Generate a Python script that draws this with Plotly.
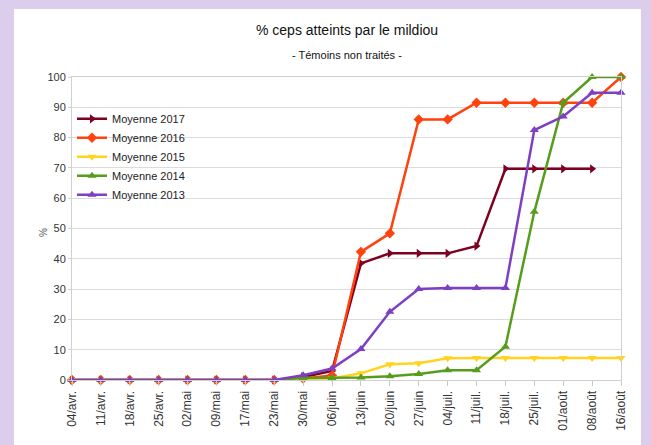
import plotly.graph_objects as go

# dates of the observations
dates = ["04/avr.", "11/avr.", "18/avr.", "25/avr.", "02/mai", "09/mai", "17/mai", "23/mai",
         "30/mai", "06/juin", "13/juin", "20/juin", "27/juin", "04/juil.", "11/juil.", "18/juil.",
         "25/juil.", "01/août", "08/août", "16/août"]

# % of vines hit by mildew, per year (None = no reading)
moy_2017 = [0, 0, 0, 0, 0, 0, 0, 0, 1, 3, 38.5, 41.8, 41.8, 41.8, 44.2, 69.7, 69.7, 69.7, 69.7, None]
moy_2016 = [0, 0, 0, 0, 0, 0, 0, 0, 0.5, 1.5, 42.3, 48.4, 86, 86, 91.5, 91.5, 91.5, 91.5, 91.5, 100]
moy_2015 = [0, 0, 0, 0, 0, 0, 0, 0, 0.5, 0.5, 2.2, 5.2, 5.5, 7.2, 7.3, 7.3, 7.3, 7.3, 7.3, 7.3]
moy_2014 = [0, 0, 0, 0, 0, 0, 0, 0, 0.7, 0.7, 0.8, 1.2, 2, 3.2, 3.2, 11, 55.5, 91.5, 100, 100]
moy_2013 = [0, 0, 0, 0, 0, 0, 0, 0, 1.6, 3.8, 10.2, 22.5, 30, 30.4, 30.4, 30.4, 82.5, 87, 94.8, 94.8]

series = [
    ("Moyenne 2017", moy_2017, "#7e0021", "triangle-right"),
    ("Moyenne 2016", moy_2016, "#ff420e", "diamond"),
    ("Moyenne 2015", moy_2015, "#ffd320", "triangle-down"),
    ("Moyenne 2014", moy_2014, "#579d1c", "triangle-up"),
    ("Moyenne 2013", moy_2013, "#7e3fc2", "triangle-up"),
]

FONT = "Liberation Sans Narrow, Arial Narrow, Liberation Sans, Arial"

fig = go.Figure()
for name, vals, col, sym in series:
    fig.add_trace(go.Scatter(
        x=dates, y=vals, name=name, mode="lines+markers",
        line=dict(color=col, width=2.5),
        marker=dict(symbol=sym, size=8, color=col),
        cliponaxis=False,
    ))

# white panel on the lavender page
fig.add_shape(type="rect", xref="paper", yref="paper",
              x0=-0.1056, x1=1.0364, y0=-0.22, y1=1.2244,
              fillcolor="white", line_width=0, layer="below")

fig.update_layout(
    width=651, height=445,
    margin=dict(l=72, r=30, t=77, b=65),
    paper_bgcolor="#dccdec",
    plot_bgcolor="white",
    font=dict(family=FONT, size=11, color="#222222"),
    showlegend=True,
    legend=dict(x=0.0, y=0.91, xanchor="left", yanchor="top",
                bgcolor="rgba(0,0,0,0)", font=dict(size=11, color="#222222"),
                tracegroupgap=0, itemwidth=30),
    annotations=[
        dict(text="% ceps atteints par le mildiou", xref="paper", yref="paper",
             x=0.5, y=1.155, xanchor="center", yanchor="middle", showarrow=False,
             font=dict(size=14, color="#111111")),
        dict(text="- Témoins non traités -", xref="paper", yref="paper",
             x=0.5, y=1.073, xanchor="center", yanchor="middle", showarrow=False,
             font=dict(size=11, color="#111111")),
        # y axis title, placed by hand closer to the ticks than standoff allows
        dict(text="%", xref="paper", yref="paper", x=-0.053, y=0.488,
             textangle=-90, showarrow=False, xanchor="center", yanchor="middle",
             font=dict(size=10, color="#555555")),
    ],
    xaxis=dict(
        type="category", range=[0, len(dates) - 1],
        tickangle=-90, tickfont=dict(size=12, color="#333333"),
        showgrid=False, showline=True, linecolor="#d0d0d0", mirror=True,
        ticks="outside", ticklen=5, tickcolor="#c8c8c8",
    ),
    yaxis=dict(
        range=[0, 100], dtick=10, tickfont=dict(size=11, color="#333333"),
        showgrid=True, gridcolor="#dcdcdc", zeroline=False,
        showline=True, linecolor="#d0d0d0", mirror=True,
        ticks="outside", ticklen=3, tickcolor="#d0d0d0",
    ),
)

# drop the default 8px page margin so the figure sits at the window corner
fig.write_html("out.html", config={"displayModeBar": False},
               post_script="document.body.style.margin='0px';")
